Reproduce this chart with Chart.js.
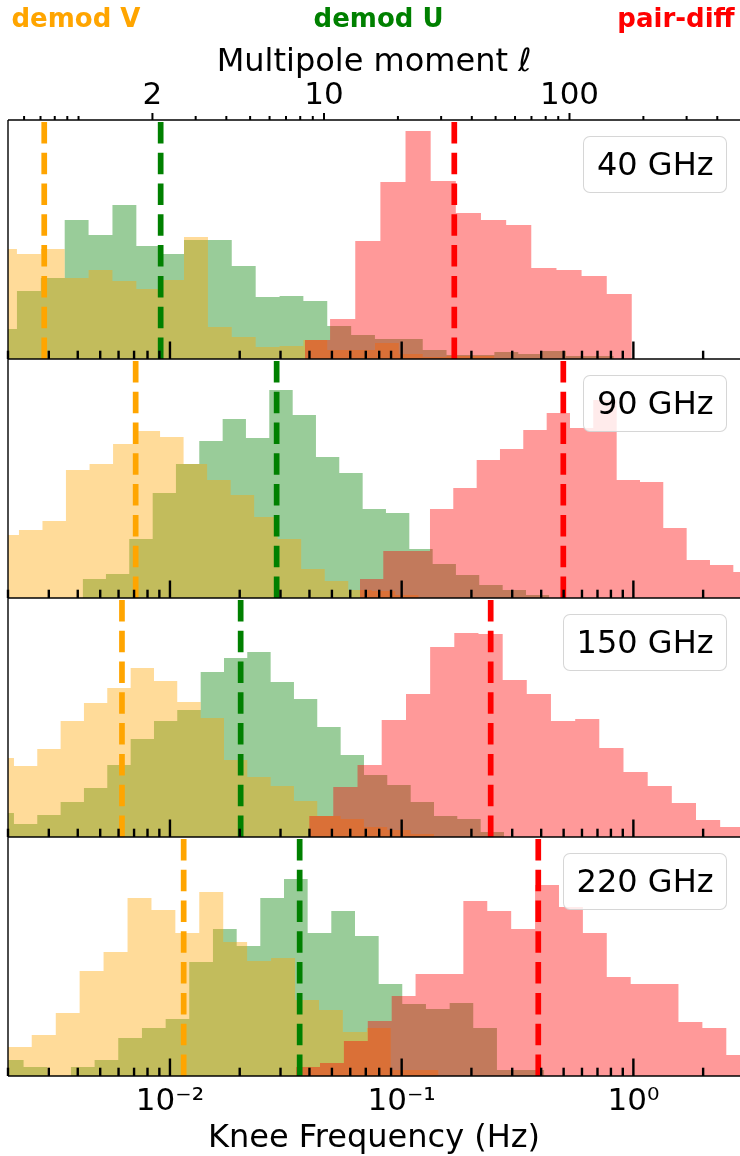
<!DOCTYPE html>
<html>
<head>
<meta charset="utf-8">
<script src="https://cdn.jsdelivr.net/npm/chart.js@4.4.1/dist/chart.umd.min.js"></script>
<style>
html, body { margin:0; padding:0; background:#fff; }
body { width:740px; height:1156px; overflow:hidden; position:relative; font-family:'DejaVu Sans', sans-serif; }
canvas { position:absolute; left:0; }
.tag { position:absolute; top:5px; font-weight:bold; font-size:26px; line-height:26px; white-space:nowrap; transform:translateX(-50%); }
.band { position:absolute; right:13px; height:57px; box-sizing:border-box; border:1.5px solid rgba(204,204,204,0.8); border-radius:7px; background:rgba(255,255,255,0.8); padding:0 12.5px; font-size:32px; line-height:54px; color:#000; white-space:nowrap; z-index:5; }
</style>
</head>
<body>
<script>
// ---------------- data ----------------
const BANDS = ['40 GHz', '90 GHz', '150 GHz', '220 GHz'];
const SERIES_NAMES = ['demod V', 'demod U', 'pair-diff'];
const SERIES_COLORS = ['#ffa500', '#008000', '#ff0000'];
const SERIES_FILLS = ['rgba(255,165,0,0.4)', 'rgba(0,128,0,0.4)', 'rgba(255,0,0,0.4)'];

// knee-frequency histograms (bin edges in Hz, counts)
const V40_EDGES = [0.001728, 0.002186, 0.002772, 0.003513, 0.004454, 0.005647, 0.007161, 0.009073, 0.01150, 0.01459, 0.01848, 0.02344, 0.02972, 0.03765, 0.04774, 0.06055, 0.07669, 0.09725, 0.1233, 0.1562, 0.1981, 0.2512];
const V40_COUNTS = [110, 105, 110, 81, 89, 78, 70, 79, 122, 32, 22, 12, 13, 19, 9, 9, 16, 5, 2, 3, 3];
const U40_EDGES = [0.001728, 0.002186, 0.002772, 0.003513, 0.004454, 0.005647, 0.007161, 0.009073, 0.01150, 0.01459, 0.01848, 0.02344, 0.02972, 0.03765, 0.04774, 0.06055, 0.07669, 0.09725, 0.1233, 0.1562, 0.1981, 0.2512, 0.3186, 0.4036, 0.5119, 0.6493, 0.8231];
const U40_COUNTS = [30, 68, 81, 139, 124, 154, 113, 105, 119, 119, 93, 62, 63, 58, 33, 24, 20, 20, 9, 4, 4, 7, 5, 8, 3, 3];
const P40_EDGES = [0.03825, 0.04909, 0.06305, 0.08093, 0.1039, 0.1334, 0.1713, 0.2199, 0.2825, 0.3625, 0.4657, 0.5976, 0.7677, 0.9851];
const P40_COUNTS = [19, 40, 118, 177, 228, 178, 146, 139, 134, 91, 89, 83, 65];

const V90_EDGES = [0.001766, 0.002230, 0.002817, 0.003557, 0.004498, 0.005681, 0.007175, 0.009064, 0.01145, 0.01447, 0.01828, 0.02309, 0.02916, 0.03684, 0.04657, 0.05881, 0.07430, 0.09384, 0.1185];
const V90_COUNTS = [63, 68, 77, 128, 134, 154, 167, 161, 134, 118, 103, 81, 59, 29, 17, 8, 7, 3];
const U90_EDGES = [0.004199, 0.005293, 0.006672, 0.008422, 0.01061, 0.01338, 0.01688, 0.02128, 0.02683, 0.03386, 0.04267, 0.05379, 0.06787, 0.08555, 0.1079, 0.1361, 0.1715, 0.2162, 0.2729, 0.3440, 0.4336];
const U90_COUNTS = [19, 24, 59, 105, 134, 157, 179, 160, 208, 183, 141, 125, 89, 85, 49, 34, 23, 13, 8, 3];
const P90_EDGES = [0.06607, 0.08329, 0.1051, 0.1325, 0.1670, 0.2107, 0.2656, 0.3348, 0.4225, 0.5326, 0.6713, 0.8471, 1.068, 1.346, 1.698, 2.141, 2.700, 3.406];
const P90_COUNTS = [19, 47, 47, 89, 110, 138, 149, 168, 185, 170, 198, 118, 116, 70, 38, 33, 26];

const V150_EDGES = [0.001683, 0.002122, 0.002675, 0.003374, 0.004254, 0.005363, 0.006767, 0.008532, 0.01075, 0.01357, 0.01711, 0.02156, 0.02720, 0.03429, 0.04322, 0.05454, 0.06876, 0.08667, 0.1094, 0.1379];
const V150_COUNTS = [79, 71, 88, 116, 134, 149, 169, 156, 135, 119, 77, 60, 51, 36, 21, 18, 10, 7, 3];
const U150_EDGES = [0.001683, 0.002122, 0.002675, 0.003374, 0.004254, 0.005363, 0.006767, 0.008532, 0.01075, 0.01357, 0.01711, 0.02156, 0.02720, 0.03429, 0.04322, 0.05454, 0.06876, 0.08667, 0.1094, 0.1379, 0.1738, 0.2193, 0.2764];
const U150_COUNTS = [24, 13, 22, 35, 49, 72, 98, 116, 127, 165, 179, 185, 155, 138, 110, 82, 62, 52, 35, 21, 18, 5];
const P150_EDGES = [0.03988, 0.05067, 0.06448, 0.08199, 0.1044, 0.1327, 0.1687, 0.2145, 0.2729, 0.3467, 0.4409, 0.5609, 0.7126, 0.9064, 1.153, 1.465, 1.863, 2.369, 3.009];
const P150_COUNTS = [21, 50, 72, 117, 143, 190, 204, 203, 157, 143, 116, 118, 89, 65, 51, 34, 17, 10];

const V220_EDGES = [0.001998, 0.002532, 0.003215, 0.004075, 0.005169, 0.006561, 0.008321, 0.01055, 0.01338, 0.01698, 0.02153, 0.02731, 0.03467, 0.04397, 0.05575, 0.07075, 0.08974, 0.1138, 0.1443];
const V220_COUNTS = [29, 41, 63, 105, 124, 178, 166, 143, 184, 134, 115, 118, 76, 66, 44, 48, 6, 6];
const U220_EDGES = [0.001846, 0.002335, 0.002955, 0.003738, 0.004729, 0.005981, 0.007570, 0.009581, 0.01211, 0.01533, 0.01941, 0.02454, 0.03105, 0.03929, 0.04969, 0.06288, 0.07957, 0.1006, 0.1273, 0.1611, 0.2037, 0.2578, 0.3263, 0.4126];
const U220_COUNTS = [16, 9, 0, 9, 16, 38, 48, 57, 114, 147, 130, 178, 197, 143, 165, 140, 92, 72, 67, 73, 48, 6, 6];
const P220_EDGES = [0.03501, 0.04441, 0.05631, 0.07140, 0.09056, 0.1148, 0.1456, 0.1846, 0.2341, 0.2969, 0.3765, 0.4775, 0.6055, 0.7677, 0.9736, 1.235, 1.565, 1.985, 2.518, 3.192];
const P220_COUNTS = [9, 13, 35, 55, 80, 102, 102, 175, 165, 147, 191, 169, 143, 99, 92, 92, 54, 48, 21];

// medians (dashed lines), one per band
const MEDIAN_V = [0.002867, 0.007112, 0.006207, 0.01146];
const MEDIAN_U = [0.009118, 0.02887, 0.02019, 0.03629];
const MEDIAN_P = [0.1687, 0.4984, 0.2422, 0.3886];

// axes
const X_MIN = 0.002, X_MAX = 2.885;      // knee frequency (Hz)
const L_MIN = 0.516, L_MAX = 495;        // multipole moment
const Y_MAX = 239;
const F_MAJOR_TICKS = [0.01, 0.1, 1];
const F_TICK_LABELS = ['10\u207B\u00B2', '10\u207B\u00B9', '10\u2070'];
const F_MINOR_TICKS = [0.002, 0.003, 0.004, 0.005, 0.006, 0.007, 0.008, 0.009, 0.02, 0.03, 0.04, 0.05, 0.06, 0.07, 0.08, 0.09, 0.2, 0.3, 0.4, 0.5, 0.6, 0.7, 0.8, 0.9, 2];
const L_MAJOR_TICKS = [2, 10, 100];
const L_TICK_LABELS = ['2', '10', '100'];
const L_MINOR_TICKS = [0.6, 0.7, 0.8, 0.9, 1, 3, 4, 5, 6, 7, 8, 9, 20, 30, 40, 50, 60, 70, 80, 90, 200, 300, 400];
const X_TITLE = 'Knee Frequency (Hz)';
const L_TITLE = 'Multipole moment \u2113';

// ---------------- chart ----------------
Chart.defaults.font.family = "'DejaVu Sans', sans-serif";
Chart.defaults.color = '#000';

const HIST = [
  [[V40_EDGES, V40_COUNTS], [U40_EDGES, U40_COUNTS], [P40_EDGES, P40_COUNTS]],
  [[V90_EDGES, V90_COUNTS], [U90_EDGES, U90_COUNTS], [P90_EDGES, P90_COUNTS]],
  [[V150_EDGES, V150_COUNTS], [U150_EDGES, U150_COUNTS], [P150_EDGES, P150_COUNTS]],
  [[V220_EDGES, V220_COUNTS], [U220_EDGES, U220_COUNTS], [P220_EDGES, P220_COUNTS]]
];
const MEDIANS = [MEDIAN_V, MEDIAN_U, MEDIAN_P];

const PANEL_LAYOUT = [
  {top: 0, h: 359, padTop: 40, topAxis: true, bottomAxis: false},
  {top: 359, h: 239, padTop: 0, topAxis: false, bottomAxis: false},
  {top: 598, h: 239, padTop: 0, topAxis: false, bottomAxis: false},
  {top: 837, h: 319, padTop: 0, topAxis: false, bottomAxis: true}
];
const PANEL_TOPS = [120, 359, 598, 837];
const DRAW_ORDER = [2, 3, 1]; // V above U, pair-diff on top

function histDataset(edges, counts, fill, order) {
  // step-before: each segment [edge_i, edge_i+1] is drawn at counts[i]
  const pts = counts.map((c, i) => ({x: edges[i], y: c}));
  pts.push({x: edges[edges.length - 1], y: counts[counts.length - 1]});
  return {data: pts, stepped: 'before', fill: 'origin', backgroundColor: fill,
          borderColor: 'rgba(0,0,0,0)', borderWidth: 0, pointRadius: 0, order: order};
}
function medianDataset(m, color) {
  return {data: [{x: m, y: 0}, {x: m, y: Y_MAX}], borderColor: color, borderWidth: 5.7,
          borderDash: [21.5, 9.3], fill: false, pointRadius: 0, order: 0};
}

const framePlugin = {
  id: 'frame',
  afterDatasetsDraw(chart) {
    const {ctx, chartArea: a} = chart;
    const xs = chart.scales.x;
    const seg = (x1, y1, x2, y2) => { ctx.beginPath(); ctx.moveTo(x1, y1); ctx.lineTo(x2, y2); ctx.stroke(); };
    ctx.save();
    ctx.strokeStyle = '#000';
    ctx.lineCap = 'butt';
    ctx.lineWidth = 2.4;
    const tickIn = (v, len) => {
      const p = xs.getPixelForValue(v);
      if (p < a.left - 0.5 || p > a.right + 0.5) return;
      seg(p, a.bottom, p, a.bottom - len);
    };
    F_MAJOR_TICKS.forEach(v => tickIn(v, 17.5));
    F_MINOR_TICKS.forEach(v => tickIn(v, 8.3));
    const ls = chart.scales.l;
    if (ls) {
      ctx.lineWidth = 2;
      const tickOut = (v, len) => {
        const p = ls.getPixelForValue(v);
        if (p < a.left - 0.5 || p > a.right + 0.5) return;
        seg(p, a.top, p, a.top - len);
      };
      L_MAJOR_TICKS.forEach(v => tickOut(v, 7));
      L_MINOR_TICKS.forEach(v => tickOut(v, 4));
    }
    ctx.lineWidth = 1.7;
    seg(a.left, a.top, a.right, a.top);
    seg(a.left, a.bottom, a.right, a.bottom);
    ctx.lineWidth = 1.4;
    seg(a.left, a.top, a.left, a.bottom);
    ctx.restore();
  }
};

PANEL_LAYOUT.forEach((L, i) => {
  const cv = document.createElement('canvas');
  cv.width = 740; cv.height = L.h;
  cv.style.top = L.top + 'px';
  cv.style.width = '740px'; cv.style.height = L.h + 'px';
  document.body.appendChild(cv);

  const datasets = [];
  MEDIANS.forEach((arr, s) => datasets.push(medianDataset(arr[i], SERIES_COLORS[s])));
  HIST[i].forEach((h, s) => datasets.push(histDataset(h[0], h[1], SERIES_FILLS[s], DRAW_ORDER[s])));

  const scales = {
    x: {
      type: 'logarithmic', position: 'bottom', min: X_MIN, max: X_MAX,
      display: L.bottomAxis,
      grid: {display: false, drawTicks: false}, border: {display: false},
      afterBuildTicks: s => { s.ticks = F_MAJOR_TICKS.map(v => ({value: v})); },
      afterFit: s => { s.height = L.bottomAxis ? 80 : 0; },
      ticks: {
        autoSkip: false, maxRotation: 0, minRotation: 0, padding: 10,
        font: {size: 31, lineHeight: 1}, color: '#000',
        callback: v => { const k = F_MAJOR_TICKS.indexOf(v); return k >= 0 ? F_TICK_LABELS[k] : ''; }
      },
      title: {display: true, text: X_TITLE, color: '#000', font: {size: 32, lineHeight: 1}, padding: {top: 0, bottom: 1}}
    },
    y: {type: 'linear', min: 0, max: Y_MAX, display: false}
  };
  if (L.topAxis) {
    scales.l = {
      type: 'logarithmic', axis: 'x', position: 'top', min: L_MIN, max: L_MAX, display: true,
      grid: {display: false, drawTicks: false}, border: {display: false},
      afterBuildTicks: s => { s.ticks = L_MAJOR_TICKS.map(v => ({value: v})); },
      afterFit: s => { s.height = 80; },
      ticks: {
        autoSkip: false, maxRotation: 0, minRotation: 0, padding: 9,
        font: {size: 31, lineHeight: 1}, color: '#000',
        callback: v => { const k = L_MAJOR_TICKS.indexOf(v); return k >= 0 ? L_TICK_LABELS[k] : ''; }
      },
      title: {display: true, text: L_TITLE, color: '#000', font: {size: 32, lineHeight: 1}, padding: {top: 7, bottom: 0}}
    };
  }

  new Chart(cv.getContext('2d'), {
    type: 'line',
    data: {datasets},
    options: {
      responsive: false, animation: false, devicePixelRatio: 1,
      layout: {padding: {left: 8, right: 0, top: L.padTop, bottom: 0}},
      elements: {point: {radius: 0}, line: {tension: 0}},
      plugins: {legend: {display: false}, tooltip: {enabled: false}, title: {display: false}},
      scales
    },
    plugins: [framePlugin]
  });
});

// series labels across the top
const TAG_CENTERS = [76, 378.6, 676];
SERIES_NAMES.forEach((n, s) => {
  const d = document.createElement('div');
  d.className = 'tag';
  d.textContent = n;
  d.style.left = TAG_CENTERS[s] + 'px';
  d.style.color = SERIES_COLORS[s];
  document.body.appendChild(d);
});
// band boxes
BANDS.forEach((b, i) => {
  const d = document.createElement('div');
  d.className = 'band';
  d.textContent = b;
  d.style.top = (PANEL_TOPS[i] + 16) + 'px';
  document.body.appendChild(d);
});
</script>
</body>
</html>
